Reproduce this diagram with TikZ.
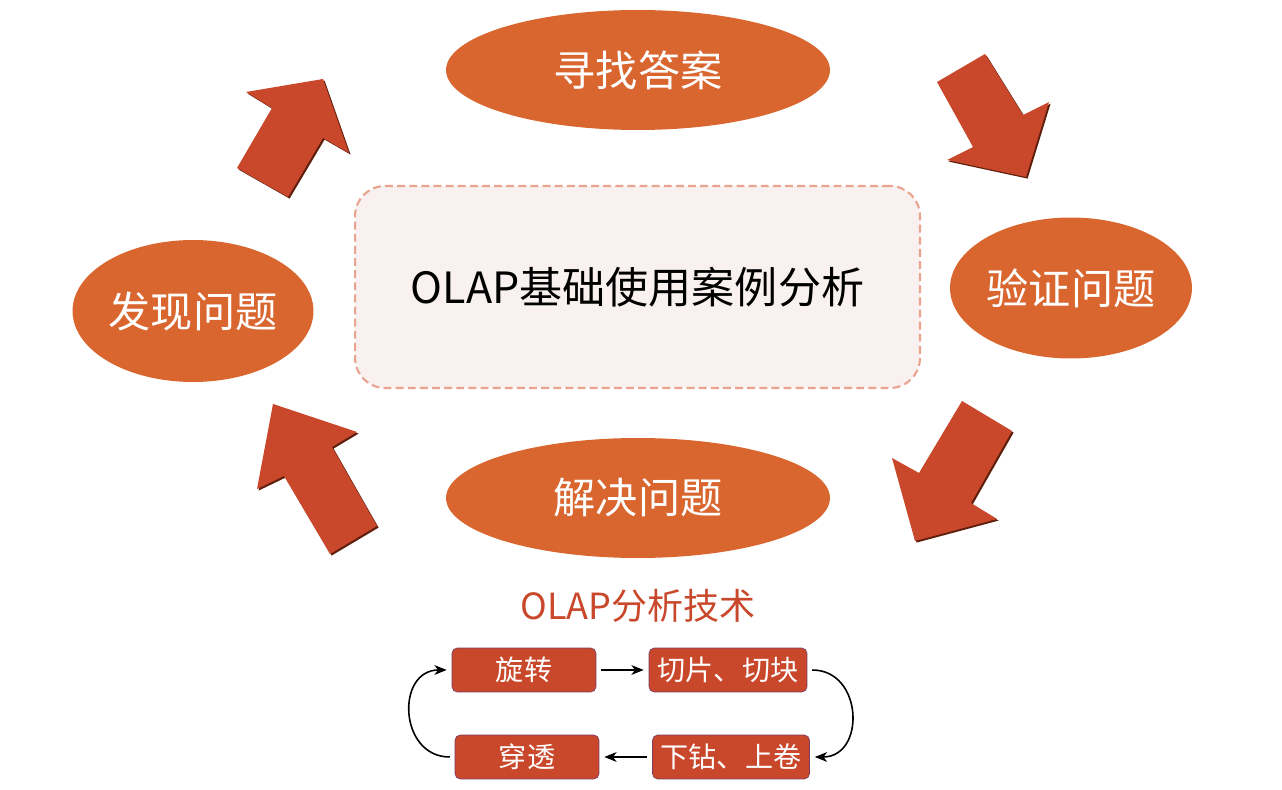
\documentclass[tikz,border=0pt]{standalone}
\usepackage{fontspec}
\setmainfont{Noto Sans CJK SC}
\usepackage{tikz}
\usetikzlibrary{arrows.meta}
\usetikzlibrary{shapes.geometric}
\usetikzlibrary{positioning}
\definecolor{mellipse}{HTML}{D9652F}
\definecolor{marrow}{HTML}{C9472A}
\definecolor{mshade}{HTML}{5E1F0C}
\definecolor{mdash}{HTML}{E9A38E}
\definecolor{mpale}{HTML}{F9F1EF}
\definecolor{mrim}{HTML}{7E3C62}
\tikzset{stage/.style = {ellipse, fill=mellipse, text=white, inner sep=0pt,
                         font=\fontsize{24pt}{28pt}\selectfont},
         arrowbody/.style = {fill=marrow},
         arrowshade/.style = {fill=mshade},
         tech/.style = {rectangle, rounded corners=3pt, fill=marrow, draw=mrim,
                        line width=0.4pt, text=white, minimum height=0.88cm,
                        outer sep=3pt, font=\fontsize{16pt}{18pt}\selectfont},
         flow/.style = {-{Stealth[length=7pt, width=5.5pt, inset=2pt]}, line width=0.9pt}}
\newcommand{\bigarrow}[1]{%
  \fill [arrowshade, shift={(1.6,1.6)}] #1 -- cycle;
  \fill [arrowbody] #1 -- cycle;}

\begin{document}
\begin{tikzpicture}[x=0.02cm, y=-0.02cm]
    \useasboundingbox (0, 0) rectangle (1282, 790);

    \node [rectangle, rounded corners=0.6cm, draw=mdash, fill=mpale,
           line width=1.2pt, dash pattern=on 4.5pt off 2.4pt,
           minimum width=11.3cm, minimum height=4.04cm,
           font=\fontsize{24.5pt}{28pt}\selectfont] (case) at (637.5, 287)
          {OLAP基础使用案例分析};

    \node [stage, minimum width=7.68cm, minimum height=2.4cm] (find) at (638, 70) {寻找答案};
    \node [stage, minimum width=4.84cm, minimum height=2.82cm] (verify) at (1071, 288) {验证问题};
    \node [stage, minimum width=7.68cm, minimum height=2.4cm] (solve) at (638, 498) {解决问题};
    \node [stage, minimum width=4.82cm, minimum height=2.84cm] (spot) at (193, 311) {发现问题};

    \bigarrow{(323, 79) -- (349, 153) -- (323, 138) -- (288, 197) -- (237, 168) -- (272, 108) -- (246, 92)}
    \bigarrow{(1026, 177) -- (947, 160) -- (973, 147) -- (937, 82) -- (985, 54) -- (1023, 115) -- (1049, 102)}
    \bigarrow{(915, 541) -- (892, 458) -- (919, 473) -- (962, 401) -- (1012, 431) -- (971, 503) -- (997, 519)}
    \bigarrow{(273, 404) -- (357, 432) -- (332, 447) -- (377, 526) -- (330, 554) -- (284, 476) -- (257, 489)}

    \node [text=marrow, font=\fontsize{20.5pt}{24pt}\selectfont] (olap) at (638, 606) {OLAP分析技术};

    \node [tech, minimum width=2.88cm] (rotate) at (524, 670) {旋转};
    \node [tech, minimum width=3.16cm] (slice) at (728, 670) {切片、切块};
    \node [tech, minimum width=3.14cm] (drill) at (731, 757) {下钻、上卷};
    \node [tech, minimum width=2.88cm] (pierce) at (527, 757) {穿透};

    \draw [flow] (rotate) -- (slice);
    \draw [flow] (drill) -- (pierce);
    \draw [flow] (slice.east) to [out=0, in=0, looseness=1.5] (drill.east);
    \draw [flow] (pierce.west) to [out=180, in=180, looseness=1.5] (rotate.west);
\end{tikzpicture}
\end{document}
